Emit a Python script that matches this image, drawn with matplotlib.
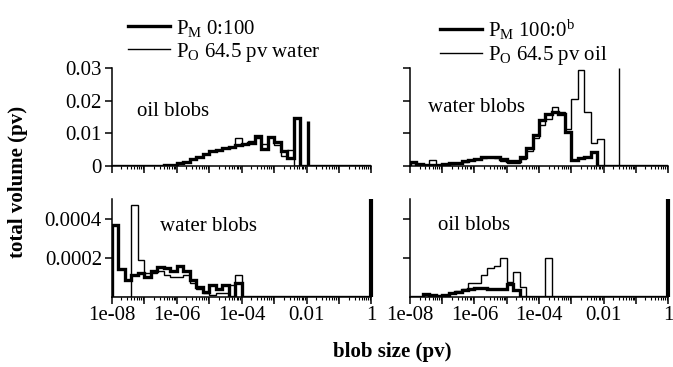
import numpy as np
import matplotlib
matplotlib.use('Agg')
import matplotlib.pyplot as plt
from matplotlib.lines import Line2D
from matplotlib.ticker import LogLocator, NullFormatter

plt.rcParams['font.family'] = 'Liberation Serif'
plt.rcParams['mathtext.fontset'] = 'custom'
plt.rcParams['mathtext.rm'] = 'Liberation Serif'
plt.rcParams['mathtext.it'] = 'Liberation Serif:italic'

# ---------------- data (5 bins per decade, 1e-8 .. 1 pv) ----------------
edges = np.logspace(-8, 0, 41)

# top left: oil blobs
tl_thick = [0, 0, 0, 0, 0,
            0.00003, 0.00006, 0.0001, 0.0002, 0.0004,
            0.0008, 0.0013, 0.002, 0.0028, 0.0036,
            0.0045, 0.005, 0.0055, 0.0059, 0.0063,
            0.0067, 0.007, 0.0092, 0.0052, 0.009,
            0.0072, 0.0045, 0.0025, 0.0146, 0,
            0, 0, 0, 0, 0, 0, 0, 0, 0, 0]
tl_thin = [0, 0, 0, 0, 0,
           0.00003, 0.00006, 0.0001, 0.0002, 0.0004,
           0.0008, 0.0013, 0.002, 0.0028, 0.0036,
           0.0045, 0.005, 0.0055, 0.0059, 0.0087,
           0.0068, 0.0078, 0.0085, 0.0068, 0.0088,
           0.0065, 0.003, 0.0049, 0, 0,
           0, 0, 0, 0, 0, 0, 0, 0, 0, 0]
tl_spike_x = 0.011
tl_spike_y = 0.0138

# top right: water blobs
tr_thick = [0.0013, 0.0006, 0.0004, 0.0004, 0.0004,
            0.0006, 0.0008, 0.001, 0.0014, 0.0018,
            0.0022, 0.0026, 0.0028, 0.0026, 0.002,
            0.0014, 0.0014, 0.0028, 0.0055, 0.0095,
            0.014, 0.0158, 0.0166, 0.0158, 0.0105,
            0.0018, 0.0025, 0.0028, 0.0044, 0,
            0, 0, 0, 0, 0, 0, 0, 0, 0, 0]
tr_thin = [0.0008, 0.0005, 0.0004, 0.0018, 0.0004,
           0.0005, 0.0007, 0.001, 0.0013, 0.0017,
           0.0021, 0.0024, 0.0026, 0.0024, 0.0015,
           0.0008, 0.0008, 0.002, 0.0045, 0.0085,
           0.0125, 0.0145, 0.018, 0.0165, 0.0112,
           0.0207, 0.0296, 0.0166, 0.0069, 0.0083,
           0, 0, 0, 0, 0, 0, 0, 0, 0, 0]
tr_spike_x = 0.031
tr_spike_y = 0.03

# bottom left: water blobs
bl_thick = [0.00037, 0.00014, 0.000087, 0.000113, 0.00012,
            0.0001, 0.00013, 0.00015, 0.000147, 0.00013,
            0.000156, 0.00013, 0.000087, 0.000052, 0.000026,
            0.00006, 0.00004, 0.00006, 0, 0.00007,
            0, 0, 0, 0, 0, 0, 0, 0, 0, 0,
            0, 0, 0, 0, 0, 0, 0, 0, 0, 0]
bl_thin = [0, 0, 0, 0.00047, 0.00019,
           0.00012, 0.00012, 0.00013, 0.00011, 0.0001,
           0.0001, 0.00011, 0.00007, 0.00004, 0.00002,
           0.00001, 0.00002, 0.00002, 0.00006, 0.00011,
           0, 0, 0, 0, 0, 0, 0, 0, 0, 0,
           0, 0, 0, 0, 0, 0, 0, 0, 0, 0]

# bottom right: oil blobs
br_thick = [0, 0, 0.000012, 0.00001, 0.000005,
            0.00001, 0.000018, 0.000025, 0.000035, 0.000042,
            0.000045, 0.000045, 0.000042, 0.00004, 0.00004,
            0.000066, 0.000033, 0, 0, 0,
            0, 0, 0, 0, 0, 0, 0, 0, 0, 0,
            0, 0, 0, 0, 0, 0, 0, 0, 0, 0]
br_thin = [0, 0, 0.00001, 0.00001, 0.000005,
           0.00001, 0.00002, 0.00003, 0.00004, 0.00007,
           0.00007, 0.000113, 0.000147, 0.000156, 0.0002,
           0.000073, 0.000125, 0.000049, 0, 0,
           0, 0.0002, 0, 0, 0, 0, 0, 0, 0, 0,
           0, 0, 0, 0, 0, 0, 0, 0, 0, 0]
bottom_spike_x = 1.0
bottom_spike_y = 0.0005

xtick_vals = 10.0 ** np.arange(-8, 1)
xtick_labels = ['1e-08', '', '1e-06', '', '1e-04', '', '0.01', '', '1']

THICK = 2.4
THIN = 1.0
FS = 15

fig = plt.figure(figsize=(6.73, 3.67), dpi=100)
ax_tl = fig.add_axes([0.166, 0.548, 0.386, 0.266])
ax_tr = fig.add_axes([0.6092, 0.548, 0.3834, 0.266])
ax_bl = fig.add_axes([0.166, 0.1916, 0.386, 0.2654])
ax_br = fig.add_axes([0.6092, 0.1916, 0.3834, 0.2654])


def style_axes(ax, ylim, yticks, ylabels, show_x):
    ax.set_xscale('log')
    ax.set_xlim(1e-8, 1)
    ax.set_ylim(ylim)
    for s in ['top', 'right']:
        ax.spines[s].set_visible(False)
    for s in ['left', 'bottom']:
        ax.spines[s].set_linewidth(1.1)
    ax.set_xticks(xtick_vals)
    ax.set_xticklabels(xtick_labels if show_x else [''] * len(xtick_vals))
    ax.xaxis.set_minor_locator(LogLocator(base=10, subs=np.arange(2, 10), numticks=20))
    ax.xaxis.set_minor_formatter(NullFormatter())
    ax.set_yticks(yticks)
    ax.set_yticklabels(ylabels)
    ax.tick_params(which='major', direction='out', length=5, width=1.1, labelsize=FS, pad=2)
    ax.tick_params(which='minor', direction='out', length=2.5, width=0.8)


ax_tl.stairs(tl_thin, edges, color='k', lw=THIN, baseline=0)
ax_tl.stairs(tl_thick, edges, color='k', lw=THICK, baseline=0)
ax_tl.vlines(tl_spike_x, 0, tl_spike_y, color='k', lw=THICK)
style_axes(ax_tl, (0, 0.03), [0, 0.01, 0.02, 0.03], ['0', '0.01', '0.02', '0.03'], False)
ax_tl.text(0.097, 0.553, 'oil blobs', transform=ax_tl.transAxes, fontsize=FS, va='center')

ax_tr.stairs(tr_thin, edges, color='k', lw=THIN, baseline=0)
ax_tr.stairs(tr_thick, edges, color='k', lw=THICK, baseline=0)
ax_tr.vlines(tr_spike_x, 0, tr_spike_y, color='k', lw=THIN)
style_axes(ax_tr, (0, 0.03), [0, 0.01, 0.02, 0.03], ['', '', '', ''], False)
ax_tr.text(0.07, 0.594, 'water blobs', transform=ax_tr.transAxes, fontsize=FS, va='center')

ax_bl.stairs(bl_thin, edges, color='k', lw=THIN, baseline=0)
ax_bl.stairs(bl_thick, edges, color='k', lw=THICK, baseline=0)
ax_bl.vlines(bottom_spike_x, 0, bottom_spike_y, color='k', lw=THICK + 0.6, clip_on=False)
style_axes(ax_bl, (0, 0.0005), [0.0002, 0.0004], ['0.0002', '0.0004'], True)
ax_bl.text(0.186, 0.716, 'water blobs', transform=ax_bl.transAxes, fontsize=FS, va='center')

ax_br.stairs(br_thin, edges, color='k', lw=THIN, baseline=0)
ax_br.stairs(br_thick, edges, color='k', lw=THICK, baseline=0)
ax_br.vlines(bottom_spike_x, 0, bottom_spike_y, color='k', lw=THICK + 0.6, clip_on=False)
style_axes(ax_br, (0, 0.0005), [0.0002, 0.0004], ['', ''], True)
ax_br.text(0.11, 0.726, 'oil blobs', transform=ax_br.transAxes, fontsize=FS, va='center')

# legends
h_thick = Line2D([], [], color='k', lw=THICK)
h_thin = Line2D([], [], color='k', lw=THIN)
leg_kw = dict(frameon=False, fontsize=FS, handlelength=2.0, handletextpad=0.3,
              borderpad=0, borderaxespad=0, labelspacing=0.1, loc='upper left')
fig.legend([h_thick, h_thin], [r'P$_{\rm M}$ 0:100', r'P$_{\rm O}$ 64.5 pv water'],
           bbox_to_anchor=(0.19, 0.952), **leg_kw)
fig.legend([h_thick, h_thin], [r'P$_{\rm M}$ 100:0$^{\rm b}$', r'P$_{\rm O}$ 64.5 pv oil'],
           bbox_to_anchor=(0.654, 0.952), **leg_kw)

fig.text(0.027, 0.504, 'total volume (pv)', rotation=90, fontsize=FS, fontweight='bold',
         ha='center', va='center')
fig.text(0.583, 0.04, 'blob size (pv)', fontsize=FS, fontweight='bold', ha='center', va='center')

fig.savefig('out.png', dpi=100)
